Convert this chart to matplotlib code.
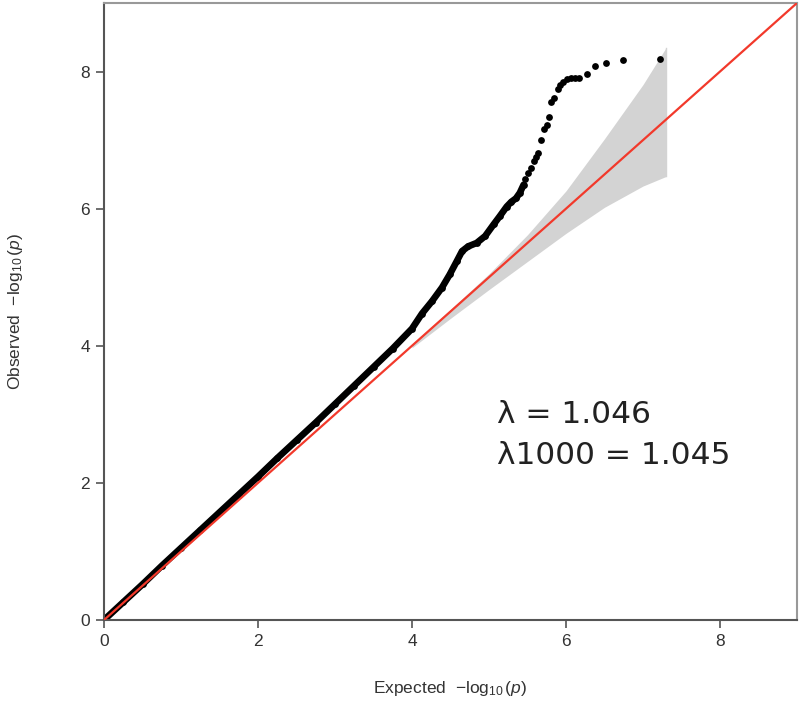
import matplotlib
matplotlib.use('Agg')
import matplotlib.pyplot as plt
import numpy as np

# observed vs expected -log10(p)
expected = [0.0, 0.25, 0.5, 0.75, 1.0, 1.25, 1.5, 1.75, 2.0, 2.25, 2.5, 2.75,
            3.0, 3.25, 3.5, 3.75, 4.0, 4.13, 4.26, 4.39, 4.49, 4.58, 4.65, 4.73,
            4.84, 4.95, 5.06, 5.14, 5.23, 5.29, 5.35, 5.40, 5.45,
            5.47, 5.51, 5.54, 5.58, 5.61, 5.64, 5.67, 5.71, 5.75, 5.78, 5.80,
            5.84, 5.89, 5.92, 5.96, 6.01, 6.06, 6.12, 6.17, 6.27, 6.38, 6.52,
            6.74, 7.22]
observed = [0.0, 0.26, 0.52, 0.79, 1.05, 1.31, 1.57, 1.83, 2.09, 2.36, 2.62, 2.88,
            3.15, 3.42, 3.69, 3.96, 4.25, 4.47, 4.65, 4.85, 5.04, 5.23, 5.38, 5.45,
            5.50, 5.60, 5.77, 5.89, 6.03, 6.10, 6.15, 6.23, 6.35,
            6.44, 6.52, 6.59, 6.69, 6.76, 6.81, 7.00, 7.16, 7.22, 7.33, 7.56,
            7.61, 7.75, 7.80, 7.85, 7.89, 7.91, 7.91, 7.91, 7.96, 8.08, 8.13,
            8.17, 8.19]
n_dense = 33  # points so crowded they form a solid band

# 95% confidence band
band_x = [4.0, 4.5, 5.0, 5.5, 6.0, 6.5, 7.0, 7.3]
band_hi = [4.02, 4.53, 5.05, 5.62, 6.26, 7.02, 7.81, 8.35]
band_lo = [3.97, 4.40, 4.82, 5.23, 5.64, 6.02, 6.33, 6.47]

lam = 1.046
lam1000 = 1.045

plt.rcParams['font.family'] = ['Liberation Sans', 'DejaVu Sans']
plt.rcParams['mathtext.fontset'] = 'custom'
plt.rcParams['mathtext.rm'] = 'Liberation Sans'
plt.rcParams['mathtext.it'] = 'Liberation Sans:italic'

fig = plt.figure(figsize=(8, 7.16), dpi=100)
ax = fig.add_axes([104 / 800, 1 - 620 / 716, 693 / 800, 617 / 716])

ax.fill_between(band_x, band_lo, band_hi, color='#d3d3d3', lw=0, zorder=1)
ax.plot(band_x[-1:] * 2, [band_lo[-1], band_hi[-1]], color='#d3d3d3', lw=1, zorder=1)

ax.plot(expected[:n_dense], observed[:n_dense], color='black', lw=4.8,
        solid_capstyle='round', solid_joinstyle='round', zorder=2)
ax.scatter(expected, observed, s=24, color='black', lw=0, zorder=2)

ax.axline((0, 0), slope=1, color='#f2392b', lw=1.6, zorder=3)

ax.text(5.1, 2.88, '\u03bb = %.3f' % lam, fontsize=22.5, family='DejaVu Sans',
        color='#222222', va='baseline')
ax.text(5.1, 2.27, '\u03bb1000 = %.3f' % lam1000, fontsize=22.5, family='DejaVu Sans',
        color='#222222', va='baseline')

ax.set_xlim(0, 9)
ax.set_ylim(0, 9)
ax.set_xticks([0, 2, 4, 6, 8])
ax.set_yticks([0, 2, 4, 6, 8])
ax.tick_params(direction='out', length=6, width=1.2, color='#555555',
               labelsize=12.5, labelcolor='#333333', pad=4)
for side in ['left', 'bottom']:
    ax.spines[side].set_color('#555555')
    ax.spines[side].set_linewidth(1.5)
for side in ['top', 'right']:
    ax.spines[side].set_color('#999999')
    ax.spines[side].set_linewidth(1.5)

ax.set_xlabel(r'Expected  $-\log_{10}(p)$', fontsize=12.5, color='#333333', labelpad=22)
ax.set_ylabel(r'Observed  $-\log_{10}(p)$', fontsize=12.5, color='#333333', labelpad=40)

fig.savefig('out.png', dpi=100)
